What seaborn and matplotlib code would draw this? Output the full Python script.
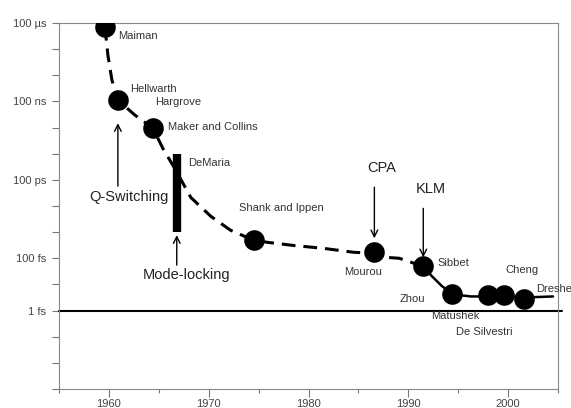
import numpy as np
import matplotlib
matplotlib.use("Agg")
import matplotlib.pyplot as plt
from matplotlib.ticker import FixedLocator, NullLocator
import seaborn as sns

# --- Data (pulse duration in log10 seconds) ---
event_names = ['Maiman', 'Hellwarth', 'Maker and Collins', 'Shank and Ippen', 'Mourou',
               'Sibbet', 'Zhou', 'Matushek', 'De Silvestri', 'Cheng']
event_years = [1959.6, 1960.9, 1964.4, 1974.5, 1986.6, 1991.5, 1994.4, 1998.0, 1999.6, 2001.6]
event_log10 = [-4.15, -6.95, -8.02, -12.31, -12.77, -13.31, -14.38, -14.42, -14.42, -14.54]

# trend line drawn through the record values (dashed part up to KLM, solid after)
trend_dashed_years = [1959.6, 1959.9, 1960.3, 1960.9, 1962.6, 1964.4, 1965.4, 1966.7, 1968.2,
                      1970.2, 1972.2, 1974.5, 1975.9, 1978.5, 1981.5, 1984.5, 1986.6, 1988.0,
                      1989.1, 1991.5]
trend_dashed_log10 = [-4.15, -5.23, -6.18, -6.95, -7.52, -8.02, -8.79, -9.63, -10.67,
                      -11.39, -11.93, -12.31, -12.39, -12.51, -12.62, -12.77, -12.81, -12.97,
                      -13.00, -13.31]
trend_solid_years = [1991.5, 1992.3, 1993.3, 1994.4, 1996.3, 1998.0, 1999.6, 2001.6, 2004.5]
trend_solid_log10 = [-13.31, -13.66, -14.04, -14.38, -14.46, -14.46, -14.46, -14.50, -14.46]

# DeMaria mode-locking range (1 ns .. 1 ps)
demaria_year = 1966.8
demaria_log10 = [-9.0, -12.0]

one_fs_log10 = -15
ytick_log10 = list(range(-4, -19, -1))
ytick_names = {-4: '100 µs', -7: '100 ns', -10: '100 ps', -13: '100 fs', -15: '1 fs'}
xtick_major = [1960, 1970, 1980, 1990, 2000]
xtick_minor = [1955, 1965, 1975, 1985, 1995, 2005]

# --- Styling ---
sns.set_theme(style='ticks')
plt.rcParams['font.family'] = ['Liberation Sans', 'DejaVu Sans']

fig = plt.figure(figsize=(5.71, 4.08), dpi=100)
ax = fig.add_axes([59 / 571, 1 - 389 / 408, 499 / 571, 366 / 408])

ev_dur = 10.0 ** np.array(event_log10)

sns.lineplot(x=trend_dashed_years, y=10.0 ** np.array(trend_dashed_log10), ax=ax,
             color='black', lw=2.2, linestyle=(0, (4.5, 2.6)), sort=False)
sns.lineplot(x=trend_solid_years, y=10.0 ** np.array(trend_solid_log10), ax=ax,
             color='black', lw=1.8, sort=False)
sns.scatterplot(x=event_years, y=ev_dur, ax=ax, s=220, color='black',
                edgecolor='black', linewidth=0, zorder=5)

ax.vlines(demaria_year, 10.0 ** demaria_log10[1], 10.0 ** demaria_log10[0],
          color='black', lw=6, zorder=4)
ax.axhline(10.0 ** one_fs_log10, xmin=0, xmax=1.008, color='black', lw=1.5, clip_on=False)

ax.set_yscale('log')
ax.set_xlim(1955, 2005)
ax.set_ylim(10.0 ** -18, 10.0 ** -4)
ax.yaxis.set_major_locator(FixedLocator([10.0 ** e for e in ytick_log10]))
ax.yaxis.set_minor_locator(NullLocator())
ax.set_yticklabels([ytick_names.get(e, '') for e in ytick_log10])
ax.set_xticks(xtick_major)
ax.set_xticks(xtick_minor, minor=True)
ax.tick_params(axis='both', which='both', direction='out', width=0.8,
               color='#777777', labelsize=8, labelcolor='#444444')
ax.tick_params(axis='y', length=5, pad=4)
ax.tick_params(axis='x', which='major', length=6, pad=1.5)
ax.tick_params(axis='x', which='minor', length=3)
for sp in ax.spines.values():
    sp.set_color('#888888')
    sp.set_linewidth(0.8)
ax.set_xlabel('')
ax.set_ylabel('')

# --- Name labels (offsets in pixels from the point) ---
name_fs = 8
label_off = {
    'Maiman': (13, -9), 'Hellwarth': (12, 11), 'Maker and Collins': (15, 1),
    'Shank and Ippen': (-15, 32), 'Mourou': (-30, -20), 'Sibbet': (14, 3),
    'Zhou': (-53, -5), 'Matushek': (-57, -21), 'De Silvestri': (-48, -37), 'Cheng': (-19, 29),
}
pts = dict(zip(event_names, zip(event_years, ev_dur)))
for name, (dx, dy) in label_off.items():
    ax.annotate(name, xy=pts[name], xytext=(dx, dy), textcoords='offset pixels',
                fontsize=name_fs, color='#333333', ha='left', va='center')
ax.annotate('Hargrove', xy=pts['Hellwarth'], xytext=(37, -2), textcoords='offset pixels',
            fontsize=name_fs, color='#333333', ha='left', va='center')
# runs past the figure edge, as in the original
ax.annotate('Dresher', xy=pts['Cheng'], xytext=(12, 10), textcoords='offset pixels',
            fontsize=name_fs, color='#333333', ha='left', va='center', annotation_clip=False)
ax.annotate('DeMaria', xy=(demaria_year, 10.0 ** demaria_log10[0]), xytext=(11, -9),
            textcoords='offset pixels', fontsize=name_fs, color='#333333', ha='left', va='center')

# --- Technique arrows ---
big_fs = 10.5
arrow_kw = dict(arrowstyle='->', color='black', lw=1.0, shrinkA=0, mutation_scale=12)


def tech_arrow(xy, tail, tip_gap, label, label_off):
    ax.annotate('', xy=xy, xytext=tail, textcoords='offset pixels',
                arrowprops=dict(arrow_kw, shrinkB=tip_gap * 0.72))
    ax.annotate(label, xy=xy, xytext=label_off, textcoords='offset pixels',
                fontsize=big_fs, color='#222222', ha='center', va='center')


tech_arrow(pts['Hellwarth'], (0, -86), 23, 'Q-Switching', (11, -97))
tech_arrow((demaria_year, 10.0 ** demaria_log10[1]), (0, -33), 3, 'Mode-locking', (10, -43))
tech_arrow(pts['Mourou'], (0, 65), 14, 'CPA', (7, 84))
tech_arrow(pts['Sibbet'], (0, 58), 9, 'KLM', (8, 77))

fig.savefig('out.png', dpi=100)
